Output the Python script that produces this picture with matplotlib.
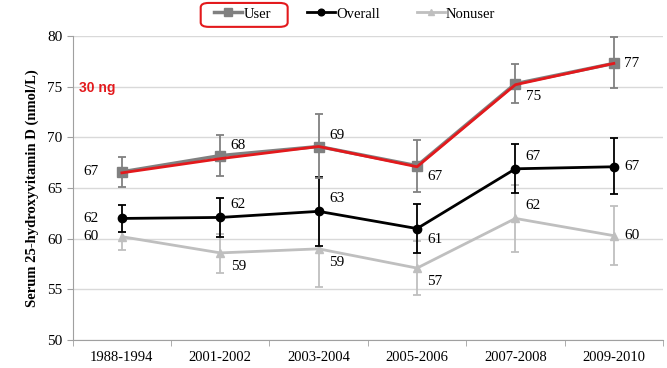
import matplotlib
matplotlib.use('Agg')
import matplotlib.pyplot as plt
from matplotlib.patches import FancyBboxPatch
import numpy as np

plt.rcParams['font.family'] = ['Liberation Serif', 'DejaVu Serif']

# Data
periods = ['1988-1994', '2001-2002', '2003-2004', '2005-2006', '2007-2008', '2009-2010']

user = [66.6, 68.2, 69.1, 67.2, 75.3, 77.3]
user_hi = [68.1, 70.2, 72.3, 69.7, 77.2, 79.9]
user_lo = [65.1, 66.2, 66.0, 64.6, 73.4, 74.9]
user_labels = ['67', '68', '69', '67', '75', '77']

overall = [62.0, 62.1, 62.7, 61.0, 66.9, 67.1]
overall_hi = [63.3, 64.0, 66.1, 63.4, 69.3, 69.9]
overall_lo = [60.7, 60.2, 59.3, 58.6, 64.5, 64.4]
overall_labels = ['62', '62', '63', '61', '67', '67']

nonuser = [60.2, 58.6, 59.0, 57.1, 62.0, 60.3]
nonuser_hi = [60.7, 60.5, 62.8, 59.8, 65.3, 63.2]
nonuser_lo = [58.9, 56.6, 55.2, 54.4, 58.7, 57.4]
nonuser_labels = ['60', '59', '59', '57', '62', '60']

# red highlight line drawn over the user series (30 ng)
highlight = [66.5, 67.9, 69.1, 67.1, 75.2, 77.3]

# label offsets in points (dx, dy)
user_off = [(-22, 0), (13, 7), (13, 8), (13, -8), (13, -9), (13, 0)]
overall_off = [(-22, 0), (13, 9), (13, 9), (13, -8), (13, 9), (13, 0)]
nonuser_off = [(-22, 0), (13, -10), (13, -10), (13, -10), (13, 9), (13, 0)]

x = np.arange(len(periods))

fig = plt.figure(figsize=(6.67, 3.68), dpi=100)
ax = fig.add_axes([0.109, 0.076, 0.885, 0.826])

def series(vals, hi, lo, color, marker, ms, lw, label, z):
    err = [np.array(vals) - np.array(lo), np.array(hi) - np.array(vals)]
    ax.errorbar(x, vals, yerr=err, fmt='none', ecolor=color, elinewidth=1.3,
                capsize=3, capthick=1.3, zorder=z)
    ln, = ax.plot(x, vals, color=color, marker=marker, markersize=ms,
                  linewidth=lw, label=label, zorder=z + 0.5)
    return ln

h_non = series(nonuser, nonuser_hi, nonuser_lo, '#BFBFBF', '^', 6, 2, 'Nonuser', 2)
h_all = series(overall, overall_hi, overall_lo, 'black', 'o', 6, 2, 'Overall', 3)
h_user = series(user, user_hi, user_lo, '#808080', 's', 6.5, 2.5, 'User', 4)
ax.plot(x, highlight, color='#E3191C', linewidth=2, zorder=5)

for vals, labs, offs in [(user, user_labels, user_off),
                         (overall, overall_labels, overall_off),
                         (nonuser, nonuser_labels, nonuser_off)]:
    for xi, v, t, (dx, dy) in zip(x, vals, labs, offs):
        ax.annotate(t, (xi, v), xytext=(dx, dy), textcoords='offset points',
                    ha='center', va='center', fontsize=11, zorder=6)

ax.text(0.01, 0.83, '30 ng', transform=ax.transAxes, color='#E3191C',
        fontsize=10, fontweight='bold', family=['Liberation Sans'], va='center')

ax.set_xlim(-0.5, len(periods) - 0.5)
ax.set_ylim(50, 80)
ax.set_yticks(np.arange(50, 81, 5))
ax.set_xticks(x)
ax.set_xticklabels(periods, fontsize=10.5)
ax.set_xticks(np.arange(-0.5, len(periods)), minor=True)
ax.tick_params(axis='x', which='major', length=0, pad=8)
ax.tick_params(axis='x', which='minor', length=4, color='#A0A0A0')
ax.tick_params(axis='y', labelsize=11, length=4, color='#A0A0A0')
ax.grid(axis='y', color='#D9D9D9', linewidth=1)
ax.set_axisbelow(True)
for s in ['top', 'right']:
    ax.spines[s].set_visible(False)
for s in ['left', 'bottom']:
    ax.spines[s].set_color('#A0A0A0')
ax.set_ylabel('Serum 25-hydroxyvitamin D (nmol/L)', fontsize=10.5, fontweight='bold',
              labelpad=6)

leg = fig.legend(handles=[h_user, h_all, h_non], loc='center', bbox_to_anchor=(0.532, 0.962),
                 ncol=3, frameon=False, fontsize=10.5, handlelength=1.9, handletextpad=0.1,
                 columnspacing=2.5, markerscale=0.8)

# red rounded box around the "User" legend entry
fig.canvas.draw()
r = fig.canvas.get_renderer()
inv = fig.transFigure.inverted()
b0 = inv.transform(leg.legend_handles[0].get_window_extent(r))
b1 = inv.transform(leg.get_texts()[0].get_window_extent(r))
x0 = b0[0][0] - 0.015
x1 = b1[1][0] + 0.025
y0 = 0.927
y1 = 0.992
fig.patches.append(FancyBboxPatch((x0, y0), x1 - x0, y1 - y0,
                                  boxstyle='round,pad=0,rounding_size=0.012',
                                  transform=fig.transFigure, fill=False,
                                  edgecolor='#E3191C', linewidth=1.5))

fig.savefig('out.png', dpi=100)
